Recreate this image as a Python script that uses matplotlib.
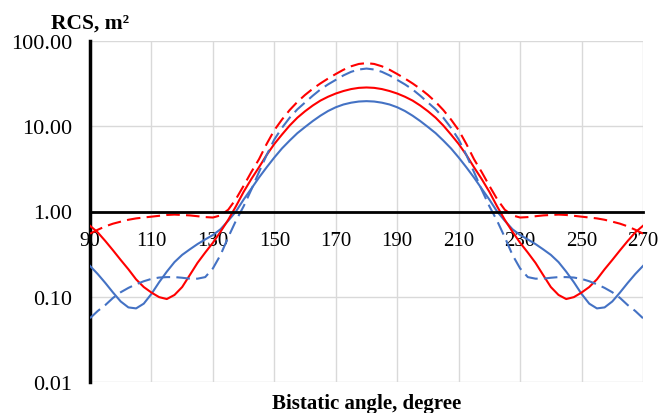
import matplotlib
matplotlib.use("Agg")
import matplotlib.pyplot as plt
from matplotlib.ticker import NullLocator, FixedLocator, FuncFormatter

angles = [90, 92.5, 95, 97.5, 100, 102.5, 105, 107.5, 110, 112.5, 115, 117.5, 120, 122.5, 125, 127.5,
          130, 132.5, 135, 137.5, 140, 142.5, 145, 147.5, 150, 152.5, 155, 157.5, 160, 162.5, 165, 167.5,
          170, 172.5, 175, 177.5, 180, 182.5, 185, 187.5, 190, 192.5, 195, 197.5, 200, 202.5, 205, 207.5,
          210, 212.5, 215, 217.5, 220, 222.5, 225, 227.5, 230, 232.5, 235, 237.5, 240, 242.5, 245, 247.5,
          250, 252.5, 255, 257.5, 260, 262.5, 265, 267.5, 270]

blue_solid = [0.23, 0.185, 0.145, 0.112, 0.088, 0.075, 0.073, 0.083, 0.108, 0.148, 0.197, 0.255, 0.31, 0.36, 0.415, 0.47,
              0.53, 0.62, 0.78, 1.0, 1.38, 1.85, 2.5, 3.3, 4.3, 5.5, 6.8, 8.3, 9.8, 11.5, 13.3, 15.1,
              16.7, 18.0, 18.9, 19.5, 19.7, 19.5, 18.9, 18.0, 16.7, 15.1, 13.3, 11.5, 9.8, 8.3, 6.8, 5.5,
              4.3, 3.3, 2.5, 1.85, 1.38, 1.0, 0.78, 0.62, 0.53, 0.47, 0.415, 0.36, 0.31, 0.255, 0.197, 0.148,
              0.108, 0.083, 0.073, 0.075, 0.088, 0.112, 0.145, 0.185, 0.23]

red_solid = [0.68, 0.57, 0.45, 0.35, 0.27, 0.21, 0.16, 0.13, 0.112, 0.099, 0.094, 0.105, 0.13, 0.18, 0.25, 0.33,
             0.43, 0.58, 0.8, 1.15, 1.7, 2.4, 3.3, 4.6, 6.2, 8.0, 10.2, 12.6, 15.0, 17.5, 20.0, 22.2,
             24.2, 25.9, 27.3, 28.2, 28.5, 28.2, 27.3, 25.9, 24.2, 22.2, 20.0, 17.5, 15.0, 12.6, 10.2, 8.0,
             6.2, 4.6, 3.3, 2.4, 1.7, 1.15, 0.8, 0.58, 0.43, 0.33, 0.25, 0.18, 0.13, 0.105, 0.094, 0.099,
             0.112, 0.13, 0.16, 0.21, 0.27, 0.35, 0.45, 0.57, 0.68]

blue_dashed = [0.056, 0.068, 0.08, 0.097, 0.113, 0.127, 0.14, 0.152, 0.162, 0.168, 0.17, 0.17, 0.167, 0.163, 0.163, 0.17,
               0.215, 0.31, 0.5, 0.78, 1.15, 1.8, 2.9, 4.6, 7.0, 9.6, 12.6, 15.8, 19.0, 22.8, 27.0, 31.0,
               35.0, 39.5, 43.5, 46.3, 47.5, 46.3, 43.5, 39.5, 35.0, 31.0, 27.0, 22.8, 19.0, 15.8, 12.6, 9.6,
               7.0, 4.6, 2.9, 1.8, 1.15, 0.78, 0.5, 0.31, 0.215, 0.17, 0.163, 0.163, 0.167, 0.17, 0.17, 0.168,
               0.162, 0.152, 0.14, 0.127, 0.113, 0.097, 0.08, 0.068, 0.056]

red_dashed = [0.55, 0.61, 0.67, 0.72, 0.76, 0.80, 0.83, 0.85, 0.87, 0.89, 0.91, 0.92, 0.91, 0.90, 0.88, 0.86,
              0.85, 0.90, 1.05, 1.4, 2.0, 2.9, 4.1, 6.2, 9.0, 12.0, 15.5, 19.3, 23.3, 27.5, 31.8, 36.3,
              41.0, 46.0, 50.5, 53.8, 55.0, 53.8, 50.5, 46.0, 41.0, 36.3, 31.8, 27.5, 23.3, 19.3, 15.5, 12.0,
              9.0, 6.2, 4.1, 2.9, 2.0, 1.4, 1.05, 0.90, 0.85, 0.86, 0.88, 0.90, 0.91, 0.92, 0.91, 0.89,
              0.87, 0.85, 0.83, 0.80, 0.76, 0.72, 0.67, 0.61, 0.55]

x_ticks = [90, 110, 130, 150, 170, 190, 210, 230, 250, 270]
y_ticks = [0.01, 0.1, 1, 10, 100]

plt.rcParams['font.family'] = ['Liberation Serif', 'DejaVu Serif']

fig = plt.figure(figsize=(6.6, 4.14), dpi=100)
ax = fig.add_axes([90/660, 1-383/414, (643-90)/660, (383-42)/414])

blue = '#4472C4'
red = '#FF0000'
lw = 1.5
dash = (6.5, 3.0)
ax.plot(angles, blue_solid, color=blue, lw=lw, zorder=3)
ax.plot(angles, red_solid, color=red, lw=lw, zorder=3)
ax.plot(angles, blue_dashed, color=blue, lw=lw, dashes=dash, zorder=3)
ax.plot(angles, red_dashed, color=red, lw=lw, dashes=dash, zorder=3)

ax.set_yscale('log')
ax.set_xlim(90, 270)
ax.set_ylim(0.01, 100)
ax.xaxis.set_major_locator(FixedLocator(x_ticks))
ax.yaxis.set_major_locator(FixedLocator(y_ticks))
ax.yaxis.set_minor_locator(NullLocator())
ax.xaxis.set_minor_locator(NullLocator())
ax.yaxis.set_major_formatter(FuncFormatter(lambda v, p: f"{v:.2f}"))

ax.grid(True, color='#d9d9d9', lw=1.0, zorder=0)
ax.set_axisbelow(True)

for s in ['top', 'right']:
    ax.spines[s].set_visible(False)
ax.spines['bottom'].set_position(('data', 1))
ax.spines['bottom'].set_linewidth(2.0)
ax.spines['bottom'].set_zorder(4)
ax.spines['left'].set_linewidth(2.5)

ax.tick_params(axis='x', length=0, pad=14, labelsize=15)
ax.tick_params(axis='y', length=0, pad=13, labelsize=16)

fig.text(51/660, 1-24/414, 'RCS, m²', fontsize=15.5, fontweight='bold', ha='left', va='center')
fig.text(366.5/660, 1-404/414, 'Bistatic angle, degree', fontsize=15, fontweight='bold', ha='center', va='center')

fig.savefig('out.png', dpi=100)
